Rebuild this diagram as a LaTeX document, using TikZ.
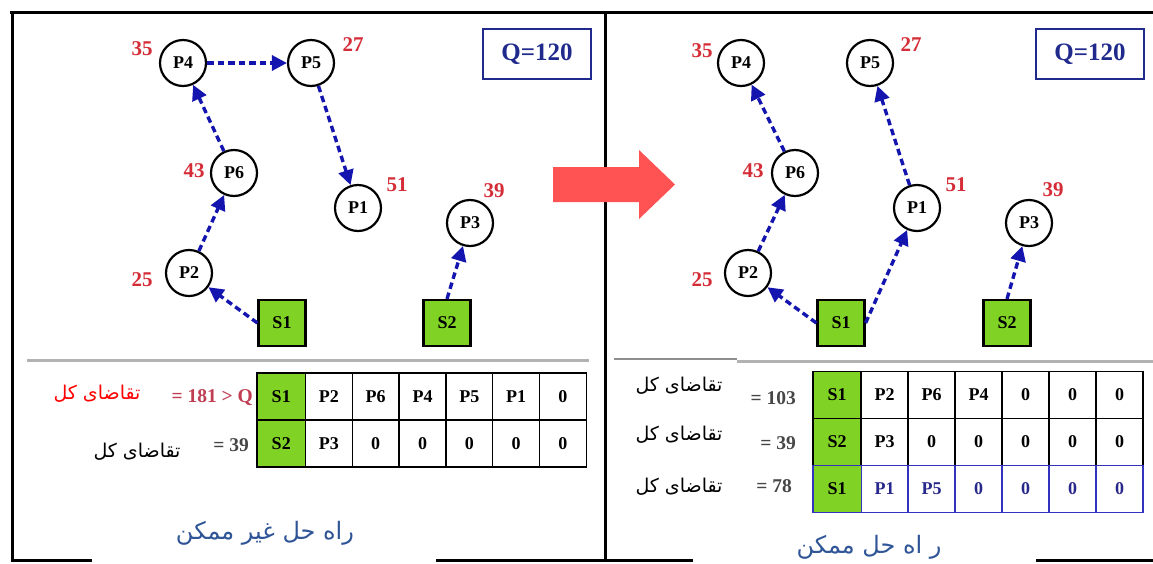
\documentclass[tikz,border=0pt]{standalone}
\usepackage{fontspec}
\setmainfont{Liberation Serif}
\newfontfamily\arabicfont[Script=Arabic]{DejaVu Sans}
\TeXXeTstate=1
\usetikzlibrary{arrows.meta}

\definecolor{flowblue}{RGB}{20,20,175}
\definecolor{demandred}{RGB}{212,45,55}
\definecolor{sumred}{RGB}{192,62,82}
\definecolor{sumgray}{RGB}{70,70,70}
\definecolor{depotgreen}{RGB}{128,210,36}
\definecolor{qnavy}{RGB}{32,42,140}
\definecolor{captionblue}{RGB}{47,85,151}
\definecolor{bigarrow}{RGB}{255,82,82}
\definecolor{rulegray}{RGB}{178,178,178}
\definecolor{routeblue}{RGB}{50,50,190}
\definecolor{routetext}{RGB}{40,40,140}

\begin{document}
\begin{tikzpicture}[x=1pt,y=-1pt,
  customer/.style={circle,draw=black,line width=2.2pt,fill=white,minimum size=46pt,inner sep=0pt,
    font=\fontsize{18}{20}\selectfont\bfseries},
  depot/.style={rectangle,draw=black,line width=2.2pt,fill=depotgreen,minimum width=47pt,minimum height=46pt,inner sep=0pt,
    font=\fontsize{18}{20}\selectfont\bfseries},
  demand/.style={text=demandred,font=\fontsize{21}{23}\selectfont\bfseries,inner sep=0pt},
  flow/.style={draw=flowblue,line width=3.4pt,dash pattern=on 6.5pt off 4pt,
    -{Triangle[length=15pt,width=15pt]}},
  qbox/.style={draw=qnavy,line width=2.6pt,text=qnavy,minimum width=108pt,minimum height=50pt,inner sep=0pt,
    font=\fontsize{25}{27}\selectfont\bfseries},
  cell/.style={draw=black,line width=1.5pt,minimum width=46.8pt,minimum height=47pt,inner sep=0pt,
    font=\fontsize{18}{20}\selectfont\bfseries},
  firstcell/.style={cell,fill=depotgreen,minimum width=48.5pt},
  routecell/.style={cell,draw=routeblue,text=routetext},
  sumtext/.style={font=\fontsize{19.5}{21}\selectfont\bfseries,inner sep=0pt,anchor=east},
  fatext/.style={font=\arabicfont\fontsize{19}{22}\selectfont,inner sep=0pt},
  caption/.style={font=\arabicfont\fontsize{24}{28}\selectfont,text=captionblue,inner sep=0pt},
  frame/.style={draw=black,line width=3pt}
]
\useasboundingbox (0,0) rectangle (1153,563);

% ---------- outer frame and divider ----------
\draw[frame] (10,12) -- (1153,12);
\draw[frame] (12,12) -- (12,561.5);
\draw[frame] (605,12) -- (605,561.5);
\draw[frame] (10.5,560) -- (92,560);
\draw[frame] (436,560) -- (693,560);
\draw[frame] (1036,560) -- (1153,560);

% ---------- separators above the tables ----------
\draw[rulegray,line width=3pt] (27,360) -- (589,360);
\draw[rulegray!80!black,line width=1.2pt] (614,359) -- (737,359);
\draw[rulegray,line width=3pt] (737,361) -- (1153,361);

% ================= infeasible solution (left) =================
\node[qbox] (LQ) at (537,54) {Q=120};

\node[customer] (LP4) at (183,63) {P4};
\node[customer] (LP5) at (311,63) {P5};
\node[customer] (LP6) at (234,173) {P6};
\node[customer] (LP1) at (358,208) {P1};
\node[customer] (LP3) at (470,223) {P3};
\node[customer] (LP2) at (189,273) {P2};
\node[depot] (LS1) at (282,323) {S1};
\node[depot] (LS2) at (447,323) {S2};

\node[demand] (LD4) at (142,49) {35};
\node[demand] (LD5) at (353,45) {27};
\node[demand] (LD6) at (194,171) {43};
\node[demand] (LD1) at (397,185) {51};
\node[demand] (LD3) at (494,191) {39};
\node[demand] (LD2) at (142,280) {25};

\draw[flow] (LS1.west) -- (LP2);
\draw[flow] (LP2) -- (LP6);
\draw[flow] (LP6) -- (LP4);
\draw[flow] (LP4) -- (LP5);
\draw[flow] (LP5) -- (LP1);
\draw[flow] (LS2.north) -- (LP3);

% route table
\node[firstcell] (LA0) at (281.25,396.5) {S1};
\foreach \t [count=\i] in {P2,P6,P4,P5,P1,0}
  \node[cell] (LA\i) at ({305.5+46.8*(\i-0.5)},396.5) {\t};
\node[firstcell] (LB0) at (281.25,443.5) {S2};
\foreach \t [count=\i] in {P3,0,0,0,0,0}
  \node[cell] (LB\i) at ({305.5+46.8*(\i-0.5)},443.5) {\t};

\node[sumtext,text=sumred] (LSA) at (253,398) {= 181 > Q};
\node[sumtext,text=sumgray] (LSB) at (249,445) {= 39};
\node[fatext,text=red] (LFA) at (97,394) {\beginR تقاضای کل\endR};
\node[fatext,text=black] (LFB) at (137,452) {\beginR تقاضای کل\endR};

\node[caption] (LCap) at (265,533) {\beginR راه حل غیر ممکن\endR};

% ================= feasible solution (right) =================
\node[qbox] (RQ) at (1090,54) {Q=120};

\node[customer] (RP4) at (741,63) {P4};
\node[customer] (RP5) at (870,63) {P5};
\node[customer] (RP6) at (795,173) {P6};
\node[customer] (RP1) at (917,208) {P1};
\node[customer] (RP3) at (1029,223) {P3};
\node[customer] (RP2) at (748,273) {P2};
\node[depot] (RS1) at (841,323) {S1};
\node[depot] (RS2) at (1007,323) {S2};

\node[demand] (RD4) at (702,51) {35};
\node[demand] (RD5) at (911,45) {27};
\node[demand] (RD6) at (753,171) {43};
\node[demand] (RD1) at (956,185) {51};
\node[demand] (RD3) at (1053,190) {39};
\node[demand] (RD2) at (702,280) {25};

\draw[flow] (RS1.west) -- (RP2);
\draw[flow] (RP2) -- (RP6);
\draw[flow] (RP6) -- (RP4);
\draw[flow] (RS1.east) -- (RP1);
\draw[flow] (RP1) -- (RP5);
\draw[flow] (RS2.north) -- (RP3);

% route table
\node[firstcell] (RA0) at (837,395) {S1};
\foreach \t [count=\i] in {P2,P6,P4,0,0,0}
  \node[cell] (RA\i) at ({861+47*(\i-0.5)},395) {\t};
\node[firstcell] (RB0) at (837,442) {S2};
\foreach \t [count=\i] in {P3,0,0,0,0,0}
  \node[cell] (RB\i) at ({861+47*(\i-0.5)},442) {\t};
\foreach \t [count=\i] in {P1,P5,0,0,0,0}
  \node[routecell] (RC\i) at ({861+47*(\i-0.5)},489) {\t};
\node[firstcell,draw=routeblue] (RC0) at (837,489) {S1};

\node[sumtext,text=sumgray] (RSA) at (796,398) {= 103};
\node[sumtext,text=sumgray] (RSB) at (796,443) {= 39};
\node[sumtext,text=sumgray] (RSC) at (792,486) {= 78};
\node[fatext,text=black] (RFA) at (679,386) {\beginR تقاضای کل\endR};
\node[fatext,text=black] (RFB) at (679,435) {\beginR تقاضای کل\endR};
\node[fatext,text=black] (RFC) at (679,487) {\beginR تقاضای کل\endR};

\node[caption] (RCap) at (869,547) {\beginR ر اه حل ممکن\endR};

% ---------- transition arrow between the panels ----------
\fill[bigarrow] (553,167) -- (639,167) -- (639,150) -- (675,184.5) -- (639,219) -- (639,202) -- (553,202) -- cycle;

\end{tikzpicture}
\end{document}
